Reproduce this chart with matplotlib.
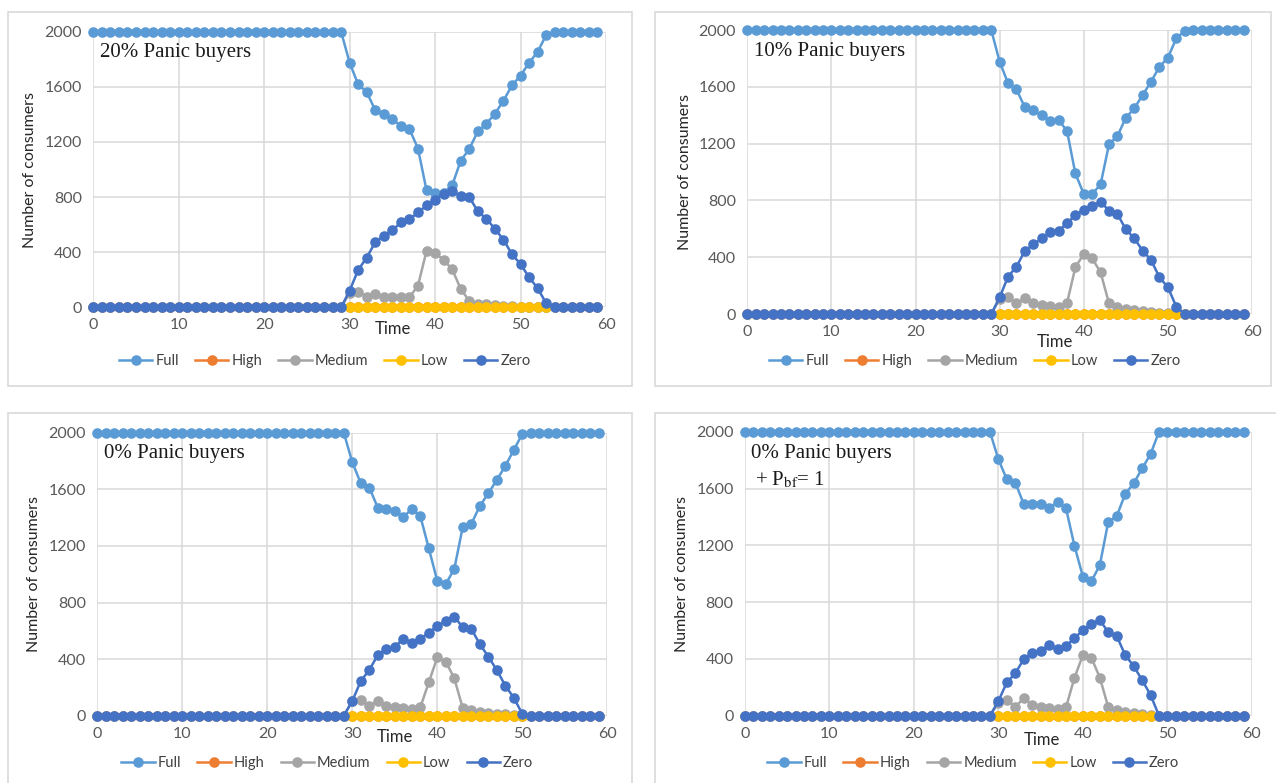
import matplotlib
matplotlib.use("Agg")
import matplotlib.pyplot as plt
from matplotlib.patches import Rectangle
import numpy as np

plt.rcParams["font.family"] = ["Lato", "DejaVu Sans"]

t = np.arange(60)
labels = ["Full", "High", "Medium", "Low", "Zero"]
colors = ["#5B9BD5", "#ED7D31", "#A5A5A5", "#FFC000", "#4472C4"]

# values from t=29 on; before that Full=2000 and everything else 0
full_20 = [2000, 1774, 1617, 1561, 1430, 1404, 1367, 1314, 1294, 1151, 848, 827, 832,
           885, 1064, 1149, 1277, 1333, 1404, 1500, 1610, 1682, 1774, 1854, 1976]
med_20 = [0, 105, 114, 78, 95, 73, 73, 78, 73, 158, 410, 393, 344, 276, 133, 46, 24,
          22, 17, 10, 8, 5, 4, 2, 0]
zero_20 = [0, 121, 271, 361, 473, 519, 558, 616, 640, 688, 739, 780, 824, 841, 808,
           800, 696, 642, 570, 490, 385, 313, 218, 138, 29]

full_10 = [2000, 1777, 1624, 1582, 1455, 1436, 1399, 1361, 1366, 1291, 990, 845, 845,
           913, 1195, 1253, 1382, 1448, 1542, 1636, 1741, 1805, 1941, 1995]
med_10 = [0, 106, 117, 75, 110, 75, 63, 59, 52, 75, 329, 422, 392, 293, 75, 52, 35,
          28, 21, 16, 10, 8, 5, 0]
zero_10 = [0, 117, 263, 333, 446, 490, 533, 580, 587, 638, 697, 732, 760, 791, 728,
           704, 596, 533, 446, 380, 258, 188, 52, 0]

full_0 = [2000, 1791, 1642, 1612, 1470, 1458, 1447, 1407, 1458, 1411, 1183, 952, 931,
          1037, 1336, 1355, 1482, 1571, 1666, 1765, 1878, 1991]
med_0 = [0, 105, 111, 71, 104, 71, 59, 52, 47, 59, 236, 412, 382, 264, 52, 40, 28,
         20, 15, 10, 5, 0]
zero_0 = [0, 104, 245, 323, 429, 469, 488, 542, 516, 542, 587, 634, 669, 700, 624,
          613, 507, 417, 323, 212, 127, 12]

full_pbf = [2000, 1805, 1664, 1641, 1490, 1490, 1490, 1460, 1507, 1460, 1195, 979, 946,
            1061, 1366, 1406, 1561, 1636, 1741, 1842]
med_pbf = [0, 92, 110, 63, 122, 75, 63, 52, 45, 59, 268, 427, 408, 268, 59, 40, 25,
           18, 10, 5]
zero_pbf = [0, 103, 235, 298, 399, 439, 458, 498, 467, 493, 545, 603, 645, 674, 587,
            561, 427, 350, 251, 146]

W, H = 1276, 783


def series(tail, base):
    out = np.full(60, base, dtype=float)
    out[29:29 + len(tail)] = tail
    return out


def low_series(n):
    # Low is 0 during the disruption, nan elsewhere (hidden under Zero)
    out = np.full(60, np.nan)
    out[30:29 + n] = 0
    return out


panels = [
    # x0, x60, y2000, y0 in pixels, legend y, data, title, time label pos
    (93.3, 606, 31.7, 307.3, 361, full_20, med_20, zero_20, "20% Panic buyers", (0.584, -0.079)),
    (747.3, 1252, 30, 314, 361, full_10, med_10, zero_10, "10% Panic buyers", (0.61, -0.1)),
    (97.3, 607.3, 432.7, 715.7, 763, full_0, med_0, zero_0, "0% Panic buyers", (0.584, -0.075)),
    (744.8, 1252, 431.7, 715.7, 763, full_pbf, med_pbf, zero_pbf, "0% Panic buyers", (0.586, -0.086)),
]
boxes = [(8, 12, 632, 386), (655, 12, 1271, 386), (8, 413, 632, 790), (655, 413, 1280, 790)]

fig = plt.figure(figsize=(W / 100, H / 100), dpi=100)

for (l, tp, r, b) in boxes:
    fig.add_artist(Rectangle((l / W, 1 - b / H), (r - l) / W, (b - tp) / H,
                             transform=fig.transFigure, fill=False,
                             edgecolor="#D9D9D9", linewidth=1.2))

for i, (x0, x60, ytop, ybot, leg_y, full, med, zero, title, tpos) in enumerate(panels):
    ax = fig.add_axes([x0 / W, 1 - ybot / H, (x60 - x0) / W, (ybot - ytop) / H])
    n = len(full)
    data = [series(full, 2000), np.zeros(60), series(med, 0), low_series(n), series(zero, 0)]
    handles = []
    for y, c, lab in zip(data, colors, labels):
        h, = ax.plot(t, y, color=c, lw=1.8, marker="o", ms=6.6, label=lab, clip_on=False)
        handles.append(h)
    ax.set_xlim(0, 60)
    ax.set_ylim(0, 2000)
    ax.set_xticks(range(0, 61, 10))
    ax.set_yticks(range(0, 2001, 400))
    ax.grid(True, color="#D9D9D9", lw=1.1)
    ax.set_axisbelow(True)
    for s in ax.spines.values():
        s.set_visible(False)
    ax.tick_params(length=0, labelsize=11.5, labelcolor="#595959", pad=8)
    ax.set_ylabel("Number of consumers", fontsize=11.5, color="#262626")
    ax.yaxis.set_label_coords(-0.11, 0.5)
    ax.text(tpos[0], tpos[1], "Time", transform=ax.transAxes, ha="center", va="center",
            fontsize=12, color="#262626")
    ax.text(0.013, 0.925, title, transform=ax.transAxes, ha="left", va="center",
            fontsize=15, family="Liberation Serif", color="#1a1a1a")
    if i == 3:
        ax.text(0.02, 0.83, r"+ P$_{\mathrm{bf}}$= 1", transform=ax.transAxes,
                ha="left", va="center", fontsize=15, family="Liberation Serif",
                color="#1a1a1a", math_fontfamily="stix")
    ax.legend(handles=handles, loc="center", ncol=5, frameon=False,
              bbox_to_anchor=(((x0 + x60) / 2 - 25 - x0) / (x60 - x0), -(leg_y - ybot) / (ybot - ytop)),
              fontsize=10.5, handlelength=2.3, columnspacing=1.1, handletextpad=0.2,
              labelcolor="#404040")

fig.savefig("out.png", dpi=100)
